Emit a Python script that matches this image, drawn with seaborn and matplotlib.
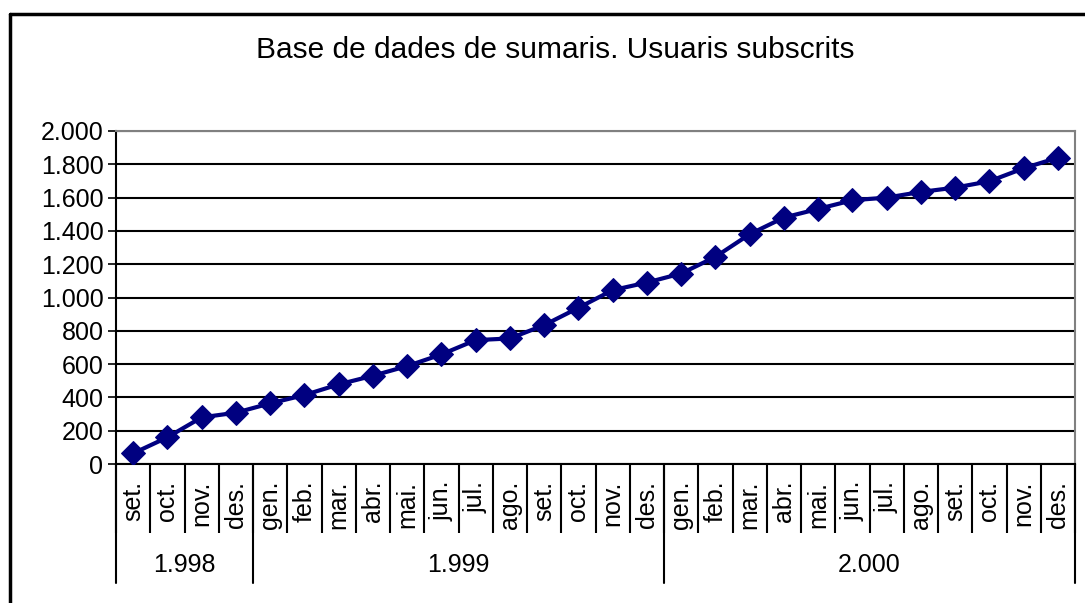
import numpy as np
import pandas as pd
import matplotlib
matplotlib.use("Agg")
import matplotlib.pyplot as plt
import matplotlib.ticker as mticker
from matplotlib.lines import Line2D
import seaborn as sns

# dades llegides del gràfic
months = ["set.", "oct.", "nov.", "des.",
          "gen.", "feb.", "mar.", "abr.", "mai.", "jun.", "jul.", "ago.", "set.", "oct.", "nov.", "des.",
          "gen.", "feb.", "mar.", "abr.", "mai.", "jun.", "jul.", "ago.", "set.", "oct.", "nov.", "des."]
years = ["1.998", "1.999", "2.000"]
months_per_year = [4, 12, 12]
users = [64, 160, 280, 308, 364, 414, 478, 530, 588, 658, 744, 754, 834, 938,
         1044, 1090, 1144, 1244, 1380, 1480, 1532, 1584, 1600, 1634, 1660, 1698, 1776, 1840]

df = pd.DataFrame({"pos": np.arange(len(months)), "usuaris": users})

sns.set_style("white")
plt.rcParams["font.family"] = ["Liberation Sans", "DejaVu Sans"]
plt.rcParams["text.color"] = "black"
plt.rcParams["xtick.color"] = "black"
plt.rcParams["ytick.color"] = "black"

W, H = 1085, 603
fig = plt.figure(figsize=(W / 100, H / 100), dpi=100)
ax = fig.add_axes([116 / W, 1 - 464 / H, (1075 - 116) / W, (464 - 131) / H])

sns.lineplot(data=df, x="pos", y="usuaris", ax=ax, color="#000080", linewidth=3,
             marker="D", markersize=12, markeredgecolor="#000080", zorder=5)

ax.set_xlim(-0.5, len(months) - 0.5)
ax.set_ylim(0, 2000)
ax.set_xlabel("")
ax.set_ylabel("")

# eix y
ax.yaxis.set_major_locator(mticker.MultipleLocator(200))
ax.yaxis.set_major_formatter(mticker.FuncFormatter(lambda v, p: f"{int(v):,}".replace(",", ".")))
ax.yaxis.grid(True, color="black", linewidth=1.5)
ax.tick_params(axis="y", which="major", direction="out", length=6, width=1.2,
               color="black", labelsize=18, pad=3, left=True)

# eix x: mesos i separadors
ax.set_xticks(df["pos"])
ax.set_xticklabels(months, rotation=90, va="top", ha="center", fontsize=18)
ax.tick_params(axis="x", which="major", length=0, pad=12)
ax.set_xticks(np.arange(len(months) + 1) - 0.5, minor=True)
ax.tick_params(axis="x", which="minor", direction="out", length=50, width=1.5, color="black", bottom=True)

for s in ["left", "bottom"]:
    ax.spines[s].set_color("black")
    ax.spines[s].set_linewidth(1.5)
for s in ["top", "right"]:
    ax.spines[s].set_color("#808080")
    ax.spines[s].set_linewidth(1.5)

# anys
trans = ax.get_xaxis_transform()
edges = np.concatenate([[0], np.cumsum(months_per_year)]) - 0.5
for e in edges:
    ax.add_line(Line2D([e, e], [0, -119 / 333], transform=trans, color="black",
                       linewidth=1.5, clip_on=False))
for i, y in enumerate(years):
    ax.text((edges[i] + edges[i + 1]) / 2, -101 / 333, y, transform=trans,
            ha="center", va="center", fontsize=18)

fig.text(555 / W, 1 - 50 / H, "Base de dades de sumaris. Usuaris subscrits",
         ha="center", va="center", fontsize=21.5)

# marc exterior
fig.add_artist(Line2D([10 / W, 10 / W], [0, 1 - 14 / H], transform=fig.transFigure,
                      color="black", linewidth=2.5))
fig.add_artist(Line2D([10 / W, 1], [1 - 14 / H, 1 - 14 / H], transform=fig.transFigure,
                      color="black", linewidth=2.5))

fig.savefig("out.png", dpi=100)
